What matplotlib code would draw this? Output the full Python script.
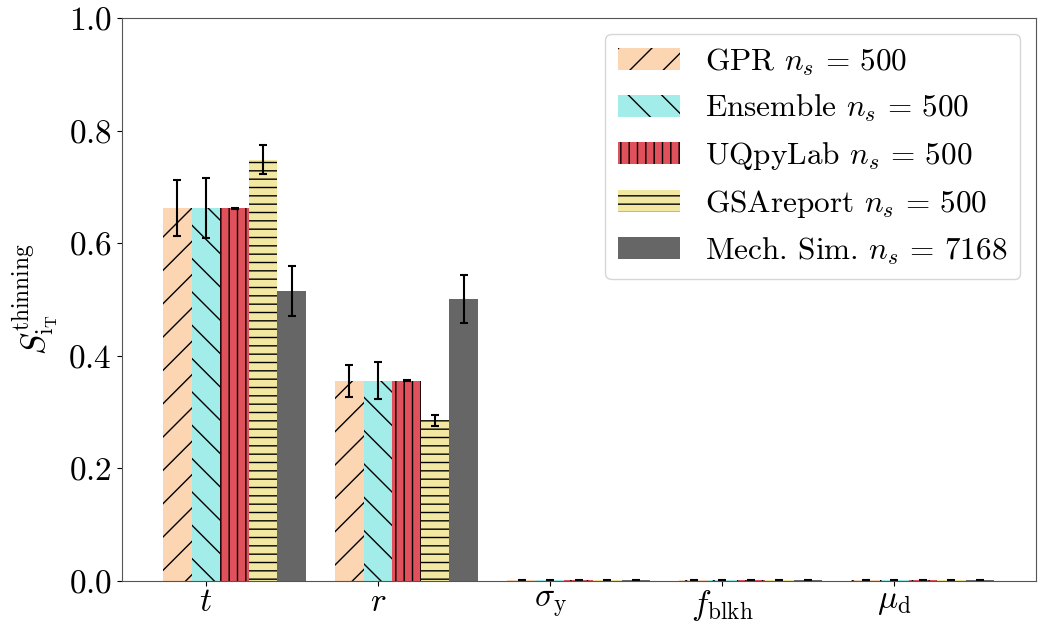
import matplotlib
matplotlib.use("Agg")
import matplotlib.pyplot as plt
import numpy as np

plt.rcParams['font.family'] = 'serif'
plt.rcParams['font.serif'] = ['cmr10']
plt.rcParams['mathtext.fontset'] = 'cm'
plt.rcParams['axes.formatter.use_mathtext'] = True
plt.rcParams['hatch.linewidth'] = 1.0

categories = [r'$t$', r'$r$', r'$\sigma_\mathrm{y}$', r'$f_\mathrm{blkh}$', r'$\mu_\mathrm{d}$']
series_names = [r'GPR $n_s \,=\, 500$', r'Ensemble $n_s \,=\, 500$', r'UQpyLab $n_s \,=\, 500$',
                r'GSAreport $n_s \,=\, 500$', r'Mech. Sim. $n_s \,=\, 7168$']

gpr_vals = [0.662, 0.355, 0.0005, 0.0005, 0.0005]
gpr_err = [0.050, 0.029, 0.0005, 0.0005, 0.0005]
ens_vals = [0.662, 0.355, 0.0005, 0.0005, 0.0005]
ens_err = [0.053, 0.033, 0.0005, 0.0005, 0.0005]
uq_vals = [0.662, 0.355, 0.0005, 0.0005, 0.0005]
uq_err = [0.001, 0.001, 0.0005, 0.0005, 0.0005]
gsa_vals = [0.748, 0.285, 0.0005, 0.0005, 0.0005]
gsa_err = [0.026, 0.010, 0.0005, 0.0005, 0.0005]
mech_vals = [0.515, 0.501, 0.0005, 0.0005, 0.0005]
mech_err = [0.045, 0.043, 0.0005, 0.0005, 0.0005]

values = [gpr_vals, ens_vals, uq_vals, gsa_vals, mech_vals]
errors = [gpr_err, ens_err, uq_err, gsa_err, mech_err]
colors = ['#fcd5b3', '#a2ecea', '#e0515c', '#f2e8a2', '#666666']
hatches = ['/', '\\', '||', '--', '']

fig = plt.figure(figsize=(10.39, 6.23), dpi=100)
ax = fig.add_axes([0.117, 0.068, 0.880, 0.903])

x = np.arange(len(categories))
w = 0.166
for k in range(5):
    ax.bar(x + (k - 1) * w, values[k], w, yerr=errors[k], color=colors[k],
           hatch=hatches[k], edgecolor='black', linewidth=0,
           capsize=3, error_kw=dict(elinewidth=1.5, capthick=1.5, ecolor='black'),
           label=series_names[k])

ax.set_ylim(0, 1.0)
ax.set_xticks(x)
ax.set_xticklabels(categories, fontsize=24)
ax.tick_params(axis='x', pad=2)
ax.tick_params(axis='y', labelsize=24)
ax.set_yticks([0.0, 0.2, 0.4, 0.6, 0.8, 1.0])
ax.set_ylabel(r'$S^{\mathrm{thinning}}_{\mathrm{i}_{\mathrm{T}}}$', fontsize=24, labelpad=6)
for s in ax.spines.values():
    s.set_color('#555555')

ax.legend(loc='upper right', fontsize=22.5)

fig.savefig('out.png', dpi=100)
